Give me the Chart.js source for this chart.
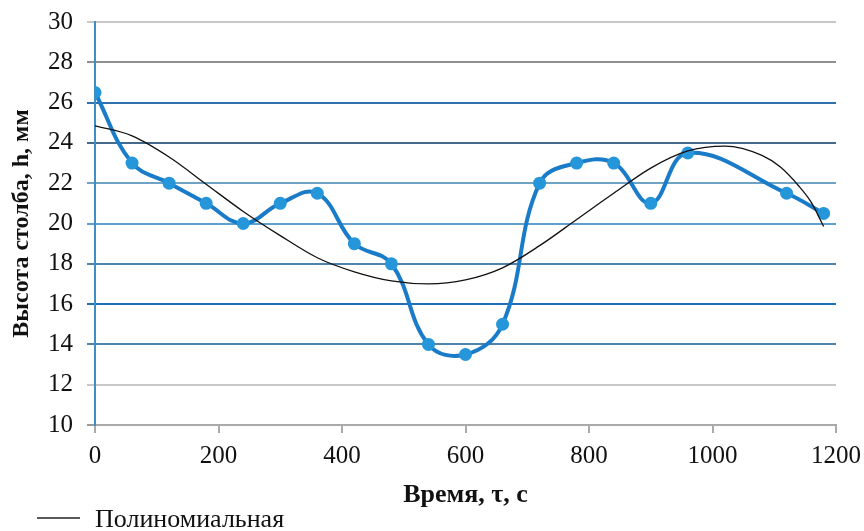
<!DOCTYPE html>
<html>
<head>
<meta charset="utf-8">
<script src="https://cdn.jsdelivr.net/npm/chart.js@4.4.1/dist/chart.umd.min.js"></script>
<style>
  html, body { margin: 0; padding: 0; background: #fff; overflow: hidden; }
  #wrap { width: 864px; height: 531px; overflow: hidden; }
</style>
</head>
<body>
<div id="wrap"><canvas id="myChart" width="864" height="540"></canvas></div>
<script>
// measured series
var timeSec = [0, 60, 120, 180, 240, 300, 360, 420, 480, 540, 600, 660, 720, 780, 840, 900, 960, 1120, 1180];
var heightMm = [26.5, 23, 22, 21, 20, 21, 21.5, 19, 18, 14, 13.5, 15, 22, 23, 23, 21, 23.5, 21.5, 20.5];

// polynomial trend
var trendTime = [0, 60, 120, 180, 240, 300, 360, 420, 480, 540, 600, 660, 720, 780, 840, 900, 960, 1020, 1080, 1110, 1140, 1160, 1180];
var trendHeight = [24.85, 24.35, 23.3, 21.95, 20.6, 19.4, 18.3, 17.6, 17.15, 17.0, 17.2, 17.8, 18.9, 20.2, 21.5, 22.75, 23.6, 23.84, 23.38, 22.8, 21.85, 21.05, 19.85];

var yTicks = [10, 12, 14, 16, 18, 20, 22, 24, 26, 28, 30];
var xTicks = [0, 200, 400, 600, 800, 1000, 1200];

var gridColors = {
    10: '#9a9a9a', 12: '#c8c8c8', 14: '#4f83ab', 16: '#1f6fb8', 18: '#4f83ab',
    20: '#5fa0cf', 22: '#6fa3c6', 24: '#44698c', 26: '#2f70ad', 28: '#8f8f8f', 30: '#c8c8c8'
};

function toPoints(xs, ys) {
    var pts = [];
    for (var i = 0; i < xs.length; i++) {
        pts.push({ x: xs[i], y: ys[i] });
    }
    return pts;
}

var serif = "'Liberation Serif', 'DejaVu Serif', serif";

// legend at the bottom left, only for the trend line
var trendLegend = {
    id: 'trendLegend',
    afterDraw: function (chart) {
        var c = chart.ctx;
        c.save();
        c.strokeStyle = '#222';
        c.lineWidth = 1.5;
        c.beginPath();
        c.moveTo(37, 518);
        c.lineTo(80, 518);
        c.stroke();
        c.fillStyle = '#111';
        c.font = '26px ' + serif;
        c.textBaseline = 'alphabetic';
        c.fillText(chart.data.datasets[1].label, 95, 527);
        c.restore();
    }
};

function createLineChart() {
    var ctx = document.getElementById('myChart').getContext('2d');
    var myChart = new Chart(ctx, {
        type: 'line',
        data: {
            datasets: [{
                label: 'Высота',
                data: toPoints(timeSec, heightMm),
                borderColor: '#1a7cc9',
                backgroundColor: '#2596da',
                borderWidth: 4,
                pointRadius: 6.5,
                pointBorderWidth: 0,
                pointBackgroundColor: '#2596da',
                tension: 0.4,
                order: 2
            }, {
                label: 'Полиномиальная',
                data: toPoints(trendTime, trendHeight),
                borderColor: '#111',
                borderWidth: 1.3,
                pointRadius: 0,
                cubicInterpolationMode: 'monotone',
                order: 1
            }]
        },
        options: {
            responsive: false,
            animation: false,
            layout: { padding: { top: 22, right: 28, left: 7, bottom: 30 } },
            plugins: {
                tooltip: { enabled: false },
                legend: { display: false }
            },
            scales: {
                x: {
                    type: 'linear',
                    min: 0,
                    max: 1200,
                    afterBuildTicks: function (axis) {
                        axis.ticks = xTicks.map(function (v) { return { value: v }; });
                    },
                    afterFit: function (axis) {
                        axis.height = 85;
                        axis.paddingLeft = 0;
                        axis.paddingRight = 0;
                    },
                    grid: {
                        drawOnChartArea: false,
                        drawTicks: true,
                        tickLength: 8,
                        color: '#aaa',
                        lineWidth: 2
                    },
                    border: { color: '#aaa', width: 2 },
                    ticks: {
                        color: '#111',
                        font: { family: serif, size: 25 },
                        padding: 8,
                        maxRotation: 0,
                        callback: function (v) { return String(v); }
                    },
                    title: {
                        display: true,
                        text: 'Время, τ, с',
                        color: '#111',
                        font: { family: serif, size: 26, weight: 'bold', lineHeight: 1 },
                        padding: { top: 0, bottom: 2 }
                    }
                },
                y: {
                    min: 10,
                    max: 30,
                    afterBuildTicks: function (axis) {
                        axis.ticks = yTicks.map(function (v) { return { value: v }; });
                    },
                    afterFit: function (axis) {
                        axis.width = 88;
                        axis.paddingTop = 0;
                        axis.paddingBottom = 0;
                    },
                    grid: {
                        color: function (c) { return gridColors[c.tick.value] || '#bbb'; },
                        lineWidth: 2,
                        tickLength: 8
                    },
                    border: { color: '#3f8fc4', width: 2 },
                    ticks: {
                        color: '#111',
                        font: { family: serif, size: 25 },
                        padding: 14
                    },
                    title: {
                        display: true,
                        text: 'Высота столба, h, мм',
                        color: '#111',
                        font: { family: serif, size: 24, weight: 'bold' },
                        padding: { top: 0, bottom: 0 }
                    }
                }
            }
        },
        plugins: [trendLegend]
    });
}

createLineChart();
</script>
</body>
</html>
